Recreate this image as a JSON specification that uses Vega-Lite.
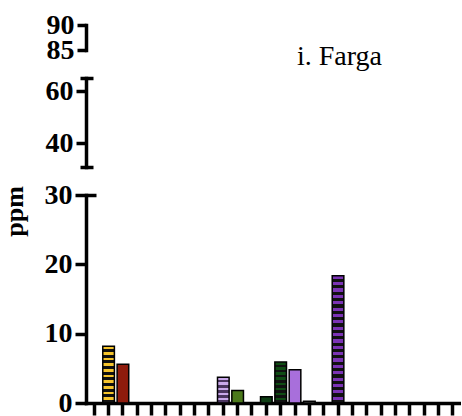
{
  "$schema": "https://vega.github.io/schema/vega-lite/v6.json",
  "padding": {"left": 1, "top": 11, "right": 0, "bottom": 0},
  "background": "white",
  "config": {
    "view": {"stroke": null},
    "font": "Liberation Serif",
    "axis": {
      "labelFont": "Liberation Serif", "labelFontSize": 28, "labelFontWeight": "bold", "labelColor": "black",
      "titleFont": "Liberation Serif", "titleFontSize": 26, "titleFontWeight": "bold", "titleColor": "black",
      "domainColor": "black", "tickColor": "black", "domainWidth": 3.5, "tickWidth": 3.5, "labelPadding": 3,
      "grid": false, "domainCap": "square"
    }
  },
  "data": {"values": [
    {"cat": 2, "ppm": 8.2},
    {"cat": 3, "ppm": 5.6},
    {"cat": 10, "ppm": 3.7},
    {"cat": 11, "ppm": 1.8},
    {"cat": 13, "ppm": 0.9},
    {"cat": 14, "ppm": 5.9},
    {"cat": 15, "ppm": 4.8},
    {"cat": 16, "ppm": 0.25},
    {"cat": 18, "ppm": 18.35}
  ]},
  "bounds": "flush",
  "spacing": 28,
  "vconcat": [
    {
      "width": 375, "height": 25,
      "mark": {"type": "bar", "clip": true, "fill": "black"},
      "encoding": {
        "x": {"field": "cat", "type": "ordinal", "scale": {"domain": [1,2,3,4,5,6,7,8,9,10,11,12,13,14,15,16,17,18,19,20,21,22,23,24,25,26], "paddingInner": 0.19, "paddingOuter": 0.17}, "axis": null},
        "y": {"field": "ppm", "type": "quantitative", "scale": {"domain": [85, 90], "nice": false, "zero": false}, "axis": {"values": [85, 90], "title": null, "tickSize": 9}}
      }
    },
    {
      "width": 375, "height": 89,
      "title": {"text": "i. Farga", "anchor": "start", "frame": "group", "dx": 211, "dy": 29, "offset": 12, "fontSize": 28, "fontWeight": "normal", "font": "Liberation Serif", "baseline": "alphabetic", "color": "black", "orient": "top"},
      "mark": {"type": "bar", "clip": true, "fill": "black"},
      "encoding": {
        "x": {"field": "cat", "type": "ordinal", "scale": {"domain": [1,2,3,4,5,6,7,8,9,10,11,12,13,14,15,16,17,18,19,20,21,22,23,24,25,26], "paddingInner": 0.19, "paddingOuter": 0.17}, "axis": null},
        "y": {"field": "ppm", "type": "quantitative", "scale": {"domain": [31, 65], "nice": false, "zero": false},
          "axis": {"values": [31, 40, 60, 65], "title": null,
            "labelExpr": "datum.value === 40 || datum.value === 60 ? datum.label : ''",
            "tickSize": {"condition": {"test": "datum.value === 31 || datum.value === 65", "value": 6}, "value": 10},
            "grid": true, "gridWidth": 3.5, "gridDash": [7, 1000],
            "gridColor": {"condition": {"test": "datum.value === 31 || datum.value === 65", "value": "black"}, "value": "transparent"}}}
      }
    },
    {
      "width": 375, "height": 208,
      "mark": {"type": "bar", "clip": true, "stroke": "black", "strokeWidth": 1.5},
      "encoding": {
        "x": {"field": "cat", "type": "ordinal", "scale": {"domain": [1,2,3,4,5,6,7,8,9,10,11,12,13,14,15,16,17,18,19,20,21,22,23,24,25,26], "paddingInner": 0.19, "paddingOuter": 0.17},
          "axis": {"labels": false, "title": null, "tickSize": 12}},
        "y": {"field": "ppm", "type": "quantitative", "scale": {"domain": [0, 30], "nice": false},
          "axis": {"values": [0, 10, 20, 30], "title": "ppm", "tickSize": 11, "titleX": -72, "titleY": 16, "titleAngle": -90, "titleAlign": "center", "titleBaseline": "middle",
            "grid": true, "gridWidth": 3.5, "gridDash": [10, 1000],
            "gridColor": {"condition": {"test": "datum.value === 30", "value": "black"}, "value": "transparent"}}},
        "fill": {
          "condition": [
            {"test": "datum.cat === 2", "value": {"gradient": "linear", "x1": 0, "y1": 0, "x2": 0, "y2": 1, "stops": [
              {"offset": 0, "color": "#F5C42C"}, {"offset": 0.05, "color": "#F5C42C"}, {"offset": 0.05, "color": "#111111"}, {"offset": 0.1, "color": "#111111"},
              {"offset": 0.1, "color": "#F5C42C"}, {"offset": 0.15, "color": "#F5C42C"}, {"offset": 0.15, "color": "#111111"}, {"offset": 0.2, "color": "#111111"},
              {"offset": 0.2, "color": "#F5C42C"}, {"offset": 0.25, "color": "#F5C42C"}, {"offset": 0.25, "color": "#111111"}, {"offset": 0.3, "color": "#111111"},
              {"offset": 0.3, "color": "#F5C42C"}, {"offset": 0.35, "color": "#F5C42C"}, {"offset": 0.35, "color": "#111111"}, {"offset": 0.4, "color": "#111111"},
              {"offset": 0.4, "color": "#F5C42C"}, {"offset": 0.45, "color": "#F5C42C"}, {"offset": 0.45, "color": "#111111"}, {"offset": 0.5, "color": "#111111"},
              {"offset": 0.5, "color": "#F5C42C"}, {"offset": 0.55, "color": "#F5C42C"}, {"offset": 0.55, "color": "#111111"}, {"offset": 0.6, "color": "#111111"},
              {"offset": 0.6, "color": "#F5C42C"}, {"offset": 0.65, "color": "#F5C42C"}, {"offset": 0.65, "color": "#111111"}, {"offset": 0.7, "color": "#111111"},
              {"offset": 0.7, "color": "#F5C42C"}, {"offset": 0.75, "color": "#F5C42C"}, {"offset": 0.75, "color": "#111111"}, {"offset": 0.8, "color": "#111111"},
              {"offset": 0.8, "color": "#F5C42C"}, {"offset": 0.85, "color": "#F5C42C"}, {"offset": 0.85, "color": "#111111"}, {"offset": 0.9, "color": "#111111"},
              {"offset": 0.9, "color": "#F5C42C"}, {"offset": 0.95, "color": "#F5C42C"}, {"offset": 0.95, "color": "#111111"}, {"offset": 1, "color": "#111111"}
            ]}},
            {"test": "datum.cat === 10", "value": {"gradient": "linear", "x1": 0, "y1": 0, "x2": 0, "y2": 1, "stops": [
              {"offset": 0, "color": "#C9A8EA"}, {"offset": 0.1, "color": "#C9A8EA"}, {"offset": 0.1, "color": "#4B3560"}, {"offset": 0.2, "color": "#4B3560"},
              {"offset": 0.2, "color": "#C9A8EA"}, {"offset": 0.3, "color": "#C9A8EA"}, {"offset": 0.3, "color": "#4B3560"}, {"offset": 0.4, "color": "#4B3560"},
              {"offset": 0.4, "color": "#C9A8EA"}, {"offset": 0.5, "color": "#C9A8EA"}, {"offset": 0.5, "color": "#4B3560"}, {"offset": 0.6, "color": "#4B3560"},
              {"offset": 0.6, "color": "#C9A8EA"}, {"offset": 0.7, "color": "#C9A8EA"}, {"offset": 0.7, "color": "#4B3560"}, {"offset": 0.8, "color": "#4B3560"},
              {"offset": 0.8, "color": "#C9A8EA"}, {"offset": 0.9, "color": "#C9A8EA"}, {"offset": 0.9, "color": "#4B3560"}, {"offset": 1, "color": "#4B3560"}
            ]}},
            {"test": "datum.cat === 14", "value": {"gradient": "linear", "x1": 0, "y1": 0, "x2": 0, "y2": 1, "stops": [
              {"offset": 0, "color": "#0F4D14"}, {"offset": 0.0625, "color": "#0F4D14"}, {"offset": 0.0625, "color": "#111111"}, {"offset": 0.125, "color": "#111111"},
              {"offset": 0.125, "color": "#0F4D14"}, {"offset": 0.1875, "color": "#0F4D14"}, {"offset": 0.1875, "color": "#111111"}, {"offset": 0.25, "color": "#111111"},
              {"offset": 0.25, "color": "#0F4D14"}, {"offset": 0.3125, "color": "#0F4D14"}, {"offset": 0.3125, "color": "#111111"}, {"offset": 0.375, "color": "#111111"},
              {"offset": 0.375, "color": "#0F4D14"}, {"offset": 0.4375, "color": "#0F4D14"}, {"offset": 0.4375, "color": "#111111"}, {"offset": 0.5, "color": "#111111"},
              {"offset": 0.5, "color": "#0F4D14"}, {"offset": 0.5625, "color": "#0F4D14"}, {"offset": 0.5625, "color": "#111111"}, {"offset": 0.625, "color": "#111111"},
              {"offset": 0.625, "color": "#0F4D14"}, {"offset": 0.6875, "color": "#0F4D14"}, {"offset": 0.6875, "color": "#111111"}, {"offset": 0.75, "color": "#111111"},
              {"offset": 0.75, "color": "#0F4D14"}, {"offset": 0.8125, "color": "#0F4D14"}, {"offset": 0.8125, "color": "#111111"}, {"offset": 0.875, "color": "#111111"},
              {"offset": 0.875, "color": "#0F4D14"}, {"offset": 0.9375, "color": "#0F4D14"}, {"offset": 0.9375, "color": "#111111"}, {"offset": 1, "color": "#111111"}
            ]}},
            {"test": "datum.cat === 18", "value": {"gradient": "linear", "x1": 0, "y1": 0, "x2": 0, "y2": 1, "stops": [
              {"offset": 0, "color": "#7B33B5"}, {"offset": 0.025, "color": "#7B33B5"}, {"offset": 0.025, "color": "#111111"}, {"offset": 0.05, "color": "#111111"},
              {"offset": 0.05, "color": "#7B33B5"}, {"offset": 0.075, "color": "#7B33B5"}, {"offset": 0.075, "color": "#111111"}, {"offset": 0.1, "color": "#111111"},
              {"offset": 0.1, "color": "#7B33B5"}, {"offset": 0.125, "color": "#7B33B5"}, {"offset": 0.125, "color": "#111111"}, {"offset": 0.15, "color": "#111111"},
              {"offset": 0.15, "color": "#7B33B5"}, {"offset": 0.175, "color": "#7B33B5"}, {"offset": 0.175, "color": "#111111"}, {"offset": 0.2, "color": "#111111"},
              {"offset": 0.2, "color": "#7B33B5"}, {"offset": 0.225, "color": "#7B33B5"}, {"offset": 0.225, "color": "#111111"}, {"offset": 0.25, "color": "#111111"},
              {"offset": 0.25, "color": "#7B33B5"}, {"offset": 0.275, "color": "#7B33B5"}, {"offset": 0.275, "color": "#111111"}, {"offset": 0.3, "color": "#111111"},
              {"offset": 0.3, "color": "#7B33B5"}, {"offset": 0.325, "color": "#7B33B5"}, {"offset": 0.325, "color": "#111111"}, {"offset": 0.35, "color": "#111111"},
              {"offset": 0.35, "color": "#7B33B5"}, {"offset": 0.375, "color": "#7B33B5"}, {"offset": 0.375, "color": "#111111"}, {"offset": 0.4, "color": "#111111"},
              {"offset": 0.4, "color": "#7B33B5"}, {"offset": 0.425, "color": "#7B33B5"}, {"offset": 0.425, "color": "#111111"}, {"offset": 0.45, "color": "#111111"},
              {"offset": 0.45, "color": "#7B33B5"}, {"offset": 0.475, "color": "#7B33B5"}, {"offset": 0.475, "color": "#111111"}, {"offset": 0.5, "color": "#111111"},
              {"offset": 0.5, "color": "#7B33B5"}, {"offset": 0.525, "color": "#7B33B5"}, {"offset": 0.525, "color": "#111111"}, {"offset": 0.55, "color": "#111111"},
              {"offset": 0.55, "color": "#7B33B5"}, {"offset": 0.575, "color": "#7B33B5"}, {"offset": 0.575, "color": "#111111"}, {"offset": 0.6, "color": "#111111"},
              {"offset": 0.6, "color": "#7B33B5"}, {"offset": 0.625, "color": "#7B33B5"}, {"offset": 0.625, "color": "#111111"}, {"offset": 0.65, "color": "#111111"},
              {"offset": 0.65, "color": "#7B33B5"}, {"offset": 0.675, "color": "#7B33B5"}, {"offset": 0.675, "color": "#111111"}, {"offset": 0.7, "color": "#111111"},
              {"offset": 0.7, "color": "#7B33B5"}, {"offset": 0.725, "color": "#7B33B5"}, {"offset": 0.725, "color": "#111111"}, {"offset": 0.75, "color": "#111111"},
              {"offset": 0.75, "color": "#7B33B5"}, {"offset": 0.775, "color": "#7B33B5"}, {"offset": 0.775, "color": "#111111"}, {"offset": 0.8, "color": "#111111"},
              {"offset": 0.8, "color": "#7B33B5"}, {"offset": 0.825, "color": "#7B33B5"}, {"offset": 0.825, "color": "#111111"}, {"offset": 0.85, "color": "#111111"},
              {"offset": 0.85, "color": "#7B33B5"}, {"offset": 0.875, "color": "#7B33B5"}, {"offset": 0.875, "color": "#111111"}, {"offset": 0.9, "color": "#111111"},
              {"offset": 0.9, "color": "#7B33B5"}, {"offset": 0.925, "color": "#7B33B5"}, {"offset": 0.925, "color": "#111111"}, {"offset": 0.95, "color": "#111111"},
              {"offset": 0.95, "color": "#7B33B5"}, {"offset": 0.975, "color": "#7B33B5"}, {"offset": 0.975, "color": "#111111"}, {"offset": 1, "color": "#111111"}
            ]}}
          ],
          "field": "cat", "type": "nominal",
          "scale": {"domain": [3, 11, 13, 15, 16], "range": ["#8E1B0C", "#4C7A1C", "#0E3D14", "#A86FDB", "#8A8A8A"]},
          "legend": null
        }
      }
    }
  ]
}
